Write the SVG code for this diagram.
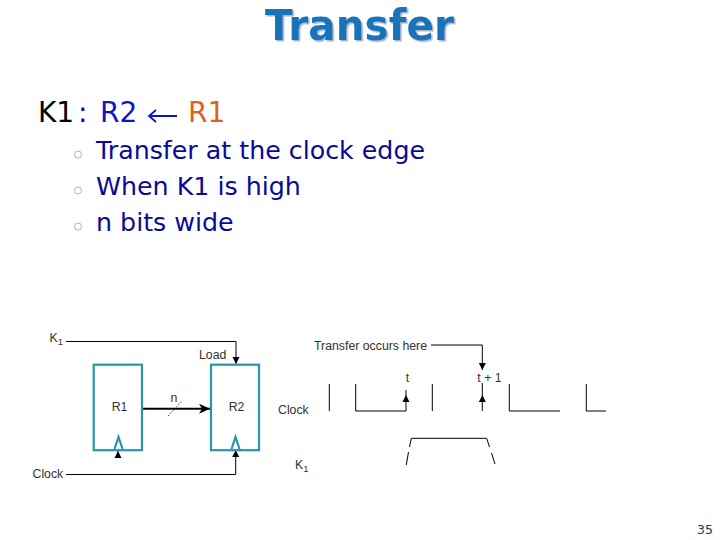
<svg xmlns="http://www.w3.org/2000/svg" width="720" height="540" viewBox="0 0 720 540">
<defs>
<marker id="ah" markerUnits="userSpaceOnUse" markerWidth="8" markerHeight="8" refX="7" refY="4" orient="auto"><path d="M0 0.5L7 4L0 7.5Z" fill="#000"/></marker>
<marker id="ahb" markerUnits="userSpaceOnUse" markerWidth="12" markerHeight="10" refX="11" refY="5" orient="auto"><path d="M0 0L11 5L0 10L3 5Z" fill="#000"/></marker>
<filter id="sh" x="-5%" y="-10%" width="115%" height="130%"><feDropShadow dx="1.5" dy="1.5" stdDeviation="0.6" flood-color="#a9b4c6"/></filter>
</defs>
<style>
text{font-family:"DejaVu Sans",Verdana,sans-serif}
.t{font-size:25.3px;fill:#0a0a96}
.d{font-family:"Liberation Sans",Arial,sans-serif;font-size:12.3px;fill:#333}
.s{font-size:9.5px;fill:#333;font-family:"Liberation Sans",Arial,sans-serif}
.reg{fill:#fff;stroke:#2a93a8;stroke-width:2.2}
.w{fill:none;stroke:#000;stroke-width:1}
.b{fill:none;stroke:#9aa5a5;stroke-width:.8}
</style>
<rect width="720" height="540" fill="#fff"/>
<text x="265" y="40" font-weight="700" font-size="42" fill="#1674ba" filter="url(#sh)" textLength="189" lengthAdjust="spacingAndGlyphs" style="font-family:'DejaVu Sans',sans-serif">Transfer</text>
<text x="38" y="122" style="font-size:28px" fill="#000">K1</text>
<text x="78" y="122" style="font-size:28px" fill="#0a0a96">:</text>
<text x="100" y="122" style="font-size:28px" fill="#0a14c8">R2</text>
<path d="M177 116H150M156 110L149 116L156 122" fill="none" stroke="#0a14c8" stroke-width="1.8"/>
<text x="188" y="122" fill="#e0601a" style="font-size:28px">R1</text>
<g class="b"><circle cx="78" cy="154.500" r="3.5"/><circle cx="78" cy="190.500" r="3.500"/><circle cx="78" cy="226.500" r="3.500"/></g>
<text class="t" x="96" y="158.500">Transfer at the clock edge</text>
<text class="t" x="96" y="194.500">When K1 is high</text>
<text class="t" x="96" y="230.500">n bits wide</text>
<g id="connectors">
<path class="w" d="M66 341.500H236V364" marker-end="url(#ah)"/>
<path class="w" d="M66 474.500H235.700V450" marker-end="url(#ah)"/>
<path class="w" d="M118 458V451" marker-end="url(#ah)"/>
<path d="M143 408.700H210" fill="none" stroke="#000" stroke-width="2" marker-end="url(#ahb)"/>
<path d="M168 416L182 401" fill="none" stroke="#000" stroke-width=".8" stroke-dasharray="1.500 1.500"/>
<path class="w" d="M431 345H482.300V370" marker-end="url(#ah)"/>
</g>
<g id="r1"><rect class="reg" x="93.700" y="364.700" width="48.300" height="85.500"/><path class="reg" d="M114.500 449L118.500 437L122.500 449" fill="none"/><text class="d" x="119.500" y="411" text-anchor="middle">R1</text></g>
<g id="r2"><rect class="reg" x="211" y="364.700" width="48" height="85.500"/><path class="reg" d="M231.500 449L235.500 437L239.500 449" fill="none"/><text class="d" x="236.500" y="411" text-anchor="middle">R2</text></g>
<g id="labels">
<text class="d" x="49.500" y="342">K<tspan class="s" dy="3">1</tspan></text>
<text class="d" x="199" y="359">Load</text>
<text class="d" x="174" y="402" text-anchor="middle">n</text>
<text class="d" x="278" y="413.500">Clock</text>
<text class="d" x="32.500" y="477.500">Clock</text>
<text class="d" x="295" y="469">K<tspan class="s" dy="3">1</tspan></text>
<text class="d" x="314" y="350">Transfer occurs here</text>
<text class="d" x="407.500" y="381.500" text-anchor="middle">t</text>
<text class="d" x="489.500" y="381.500" text-anchor="middle">t + 1</text>
</g>
<g id="timing">
<path class="w" d="M329.300 384V411M355.700 384V411H406M432.300 384V411M509.300 384V411H560M586.300 384V411H606"/>
<path class="w" d="M406 411V395" marker-end="url(#ah)"/>
<path class="w" d="M406 395V390"/>
<path class="w" d="M482.300 411V395" marker-end="url(#ah)"/>
<path class="w" d="M482.300 395V383"/>
<path class="w" d="M406.300 465L408.500 452M409.500 447L411.300 438.300H486.700L489.500 447M491.500 453L495 464"/>
</g>
<text x="697" y="534" style="font-size:12.500px;fill:#333">35</text>
</svg>
